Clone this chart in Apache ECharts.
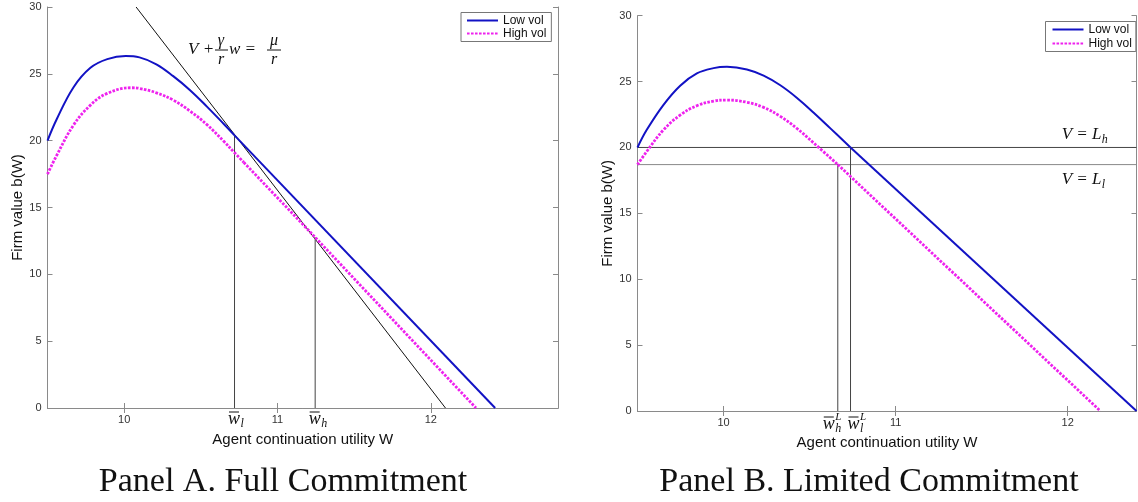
<!DOCTYPE html>
<html><head><meta charset="utf-8">
<script src="https://cdn.jsdelivr.net/npm/echarts@6/dist/echarts.min.js"></script>
<style>html,body{margin:0;padding:0;background:#fff}#c{width:1138px;height:502px}</style>
</head><body><div id="c"></div><script>
// ---------- data ----------
const yTickStep = 5;
const xTickValues = [10, 11, 12];

// Panel A (full commitment): curved part, then straight part
const lowA_W  = [9.50, 9.56, 9.67, 9.78, 9.89, 10.01, 10.10, 10.21, 10.32, 10.43, 10.54, 10.65, 10.72];
const lowA_V  = [20.0, 21.6, 24.0, 25.45, 26.1, 26.33, 26.23, 25.71, 24.83, 23.78, 22.55, 21.25, 20.4];
const lowA_lin_W = [10.72, 12.42];
const lowA_lin_V = [20.4, 0];
const highA_W = [9.50, 9.56, 9.67, 9.78, 9.89, 10.05, 10.10, 10.21, 10.32, 10.43, 10.54, 10.65, 10.72, 10.78];
const highA_V = [17.5, 18.9, 21.17, 22.66, 23.54, 23.96, 23.91, 23.58, 23.04, 22.21, 21.2, 19.95, 19.1, 18.38];
const highA_lin_W = [10.78, 11.246, 12.295];
const highA_lin_V = [18.38, 12.77, 0];
const tangentA_W = [10.078, 12.096];
const tangentA_V = [30, 0];
const wBarA_W = [10.72, 11.246];   // w̄_l, w̄_h
const wBarA_V = [20.4, 12.77];
const wBarA_sub = ['l', 'h'];

// Panel B (limited commitment)
const lowB_W  = [9.50, 9.553, 9.65, 9.748, 9.845, 9.942, 10.02, 10.136, 10.233, 10.33, 10.427, 10.524, 10.621, 10.738];
const lowB_V  = [20.0, 21.32, 23.22, 24.69, 25.62, 26.02, 26.12, 25.92, 25.45, 24.72, 23.76, 22.64, 21.45, 20.0];
const lowB_lin_W = [10.738, 12.40];
const lowB_lin_V = [20.0, 0];
const highB_W = [9.50, 9.553, 9.65, 9.748, 9.845, 9.942, 10.02, 10.136, 10.233, 10.33, 10.427, 10.524, 10.664];
const highB_V = [18.7, 19.68, 21.32, 22.46, 23.17, 23.52, 23.6, 23.43, 23.04, 22.36, 21.44, 20.34, 18.7];
const highB_lin_W = [10.664, 12.19];
const highB_lin_V = [18.7, 0];
const levelB_V = [20.0, 18.7];     // L_h, L_l
const levelB_sub = ['h', 'l'];
const wBarB_W = [10.664, 10.738];  // w̄_h^L, w̄_l^L
const wBarB_V = [18.7, 20.0];
const wBarB_sub = ['h', 'l'];

const xRangeA = [9.5, 12.83];
const xRangeB = [9.5, 12.40];
const yRange = [0, 30];

// ---------- helpers ----------
const zip = (a, b) => a.map((v, i) => [v, b[i]]);
const BLUE = '#1212c4', MAG = '#ee22ee', AXC = '#8a8a8a', LBL = '#333';
const SANS = 'Liberation Sans, Arial, sans-serif';
const SERIF = 'Liberation Serif, DejaVu Serif, serif';

function xAxes(gi, range) {
  return [
    { gridIndex: gi, type: 'value', position: 'bottom', min: range[0], max: range[1],
      name: 'Agent continuation utility W', nameLocation: 'middle', nameGap: 24,
      nameTextStyle: { fontFamily: SANS, fontSize: 15, color: '#111' },
      axisLine: { lineStyle: { color: AXC } },
      axisTick: { inside: true, length: 5, customValues: xTickValues, lineStyle: { color: AXC } },
      axisLabel: { customValues: xTickValues, fontFamily: SANS, fontSize: 11, color: LBL, margin: 6 },
      splitLine: { show: false } },
    { gridIndex: gi, type: 'value', position: 'top', min: range[0], max: range[1],
      axisLine: { lineStyle: { color: AXC } },
      axisTick: { inside: true, length: 5, customValues: xTickValues, lineStyle: { color: AXC } },
      axisLabel: { show: false }, splitLine: { show: false } }
  ];
}
function yAxes(gi) {
  return [
    { gridIndex: gi, type: 'value', position: 'left', min: yRange[0], max: yRange[1], interval: yTickStep,
      name: 'Firm value b(W)', nameLocation: 'middle', nameGap: 22,
      nameTextStyle: { fontFamily: SANS, fontSize: 15, color: '#111' },
      axisLine: { show: true, lineStyle: { color: AXC } },
      axisTick: { show: true, inside: true, length: 5, lineStyle: { color: AXC } },
      axisLabel: { fontFamily: SANS, fontSize: 11, color: LBL, margin: 6 },
      splitLine: { show: false } },
    { gridIndex: gi, type: 'value', position: 'right', min: yRange[0], max: yRange[1], interval: yTickStep,
      axisLine: { show: true, lineStyle: { color: AXC } },
      axisTick: { show: true, inside: true, length: 5, lineStyle: { color: AXC } },
      axisLabel: { show: false }, splitLine: { show: false } }
  ];
}
function curve(name, xi, yi, W, V, color, dotted, smooth) {
  return { name, type: 'line', xAxisIndex: xi, yAxisIndex: yi, data: zip(W, V),
    symbol: 'none', smooth: smooth ? 0.4 : false, silent: true, z: dotted ? 3 : 4,
    lineStyle: { color, width: dotted ? 2.8 : 2, type: dotted ? [2.6, 1.4] : 'solid', cap: 'butt' },
    itemStyle: { color } };
}
function seg(xi, yi, pts, color, width) {
  return { type: 'line', xAxisIndex: xi, yAxisIndex: yi, data: pts, symbol: 'none', silent: true, z: 2,
    lineStyle: { color, width: width || 1 } };
}

const series = [
  curve('Low vol', 0, 0, lowA_W, lowA_V, BLUE, false, true),
  curve('High vol', 0, 0, highA_W, highA_V, MAG, true, true),
  curve('Low vol', 0, 0, lowA_lin_W, lowA_lin_V, BLUE, false, false),
  curve('High vol', 0, 0, highA_lin_W, highA_lin_V, MAG, true, false),
  seg(0, 0, zip(tangentA_W, tangentA_V), '#111', 1),
  ...wBarA_W.map((w, i) => seg(0, 0, [[w, 0], [w, wBarA_V[i]]], '#444', 1)),
  curve('Low vol', 2, 2, lowB_W, lowB_V, BLUE, false, true),
  curve('High vol', 2, 2, highB_W, highB_V, MAG, true, true),
  curve('Low vol', 2, 2, lowB_lin_W, lowB_lin_V, BLUE, false, false),
  curve('High vol', 2, 2, highB_lin_W, highB_lin_V, MAG, true, false),
  ...levelB_V.map((v, i) => seg(2, 2, [[xRangeB[0], v], [xRangeB[1], v]], i === 0 ? '#444' : '#888', 1)),
  ...wBarB_W.map((w, i) => seg(2, 2, [[w, 0], [w, wBarB_V[i]]], '#444', 1))
];

const legendCommon = {
  orient: 'vertical', data: ['Low vol', 'High vol'], backgroundColor: '#fff',
  borderColor: '#777', borderWidth: 1, borderRadius: 0, itemGap: 1, itemWidth: 31, itemHeight: 10,
  itemStyle: { opacity: 0 },
  textStyle: { fontFamily: SANS, fontSize: 12, color: '#111', lineHeight: 12 }, selectedMode: false
};

const chart = echarts.init(document.getElementById('c'), null, { renderer: 'canvas' });
chart.setOption({
  animation: false,
  grid: [
    { left: 47.5, top: 7, width: 510.5, height: 401 },
    { left: 637.5, top: 15.7, width: 499, height: 395.3 }
  ],
  xAxis: [...xAxes(0, xRangeA), ...xAxes(1, xRangeB)],
  yAxis: [...yAxes(0), ...yAxes(1)],
  legend: [
    Object.assign({}, legendCommon, { left: 461, top: 12.5, padding: [2, 5, 2, 5] }),
    Object.assign({}, legendCommon, { left: 1045.5, top: 21.5, padding: [2, 4, 2, 6], itemGap: 2 })
  ],
  series
});

// ---------- math annotations ----------
const g = [];
const mathStyle = (txt, x, y, size, align, vAlign) => ({
  type: 'text', x, y, silent: true,
  style: { text: txt, fontFamily: SERIF, fontStyle: 'italic', fontSize: size, fill: '#111',
    align: align || 'left', verticalAlign: vAlign || 'middle' }
});
function wbar(px, py, sub, sup) {
  g.push(mathStyle('w', px, py, 18, 'left'));
  g.push({ type: 'line', silent: true, shape: { x1: px + 1, y1: py - 7, x2: px + 11, y2: py - 7 },
    style: { stroke: '#111', lineWidth: 1 } });
  g.push(mathStyle(sub, px + 12.5, py + 5, 12, 'left'));
  if (sup) g.push(mathStyle(sup, px + 12.5, py - 7, 11, 'left'));
}
wBarA_W.forEach((w, i) => {
  const p = chart.convertToPixel({ xAxisIndex: 0, yAxisIndex: 0 }, [w, 0]);
  wbar(p[0] - 6.5, p[1] + 11, wBarA_sub[i]);
});
wBarB_W.forEach((w, i) => {
  const p = chart.convertToPixel({ xAxisIndex: 2, yAxisIndex: 2 }, [w, 0]);
  wbar(p[0] - (i === 0 ? 15 : 3), p[1] + 13, wBarB_sub[i], 'L');
});
levelB_V.forEach((v, i) => {
  const p = chart.convertToPixel({ xAxisIndex: 2, yAxisIndex: 2 }, [11.965, v]);
  const y = i === 0 ? p[1] - 13 : p[1] + 15;
  g.push(mathStyle('V = L', p[0], y, 17, 'left'));
  g.push(mathStyle(levelB_sub[i], p[0] + 40, y + 5, 12, 'left'));
});
(function () {
  const x0 = 188, yc = 50;
  g.push(mathStyle('V +', x0, yc, 17, 'left'));
  g.push(mathStyle('γ', 221, yc - 9, 16, 'center'));
  g.push({ type: 'line', silent: true, shape: { x1: 215, y1: yc, x2: 228, y2: yc }, style: { stroke: '#111', lineWidth: 1 } });
  g.push(mathStyle('r', 221, yc + 10, 16, 'center'));
  g.push(mathStyle('w =', 229, yc, 17, 'left'));
  g.push(mathStyle('μ', 274, yc - 9, 16, 'center'));
  g.push({ type: 'line', silent: true, shape: { x1: 267, y1: yc, x2: 281, y2: yc }, style: { stroke: '#111', lineWidth: 1 } });
  g.push(mathStyle('r', 274, yc + 10, 16, 'center'));
})();
g.push({ type: 'text', x: 283, y: 482, silent: true,
  style: { text: 'Panel A. Full Commitment', fontFamily: SERIF, fontSize: 34, fill: '#111', align: 'center', verticalAlign: 'middle' } });
g.push({ type: 'text', x: 869, y: 482, silent: true,
  style: { text: 'Panel B. Limited Commitment', fontFamily: SERIF, fontSize: 34, fill: '#111', align: 'center', verticalAlign: 'middle' } });
chart.setOption({ graphic: g });
</script></body></html>
